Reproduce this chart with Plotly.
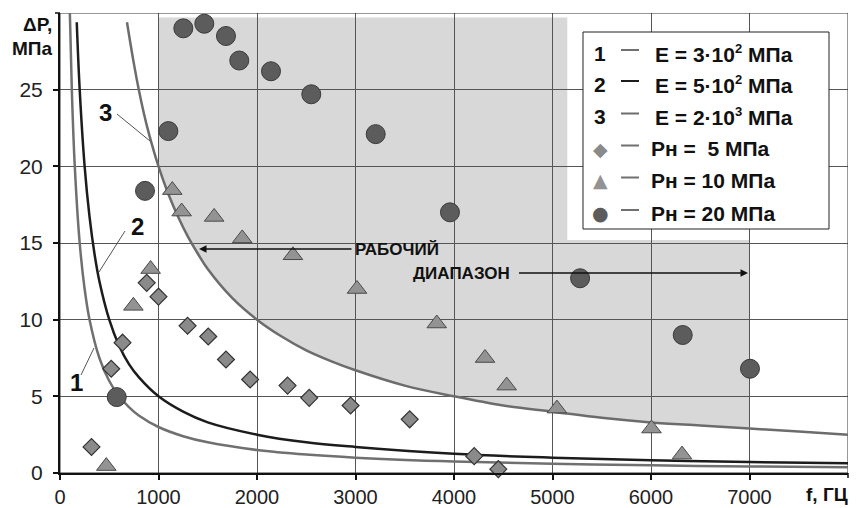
import plotly.graph_objects as go

# ---- theoretical curves ----
c1_f = [100, 120, 150, 200, 250, 300, 400, 500, 600, 700, 800, 1000, 1250, 1500, 2000, 2500, 3000, 4000, 5000, 6000, 7000, 8000]
c1_p = [30, 25, 20, 15, 12, 10, 7.5, 6, 5, 4.3, 3.75, 3, 2.4, 2, 1.5, 1.2, 1, 0.75, 0.6, 0.5, 0.43, 0.38]
c2_f = [170, 200, 250, 300, 350, 400, 500, 600, 700, 800, 1000, 1250, 1500, 2000, 2500, 3000, 4000, 5000, 6000, 7000, 8000]
c2_p = [29.4, 25, 20, 16.7, 14.3, 12.5, 10, 8.3, 7.1, 6.25, 5, 4, 3.3, 2.5, 2, 1.7, 1.25, 1, 0.83, 0.71, 0.63]
c3_f = [680, 700, 750, 800, 850, 900, 1000, 1100, 1200, 1300, 1400, 1500, 1750, 2000, 2250, 2500, 2750, 3000,
        3500, 4000, 4500, 5000, 5500, 6000, 6500, 7000, 7500, 8000]
c3_p = [29.4, 28.6, 26.7, 25, 23.5, 22.2, 20, 18.2, 16.7, 15.4, 14.3, 13.3, 11.4, 10, 8.9, 8, 7.3, 6.7,
        5.7, 5, 4.4, 4, 3.6, 3.3, 3.1, 2.9, 2.7, 2.5]

# ---- measured points ----
d_f = [320, 520, 635, 880, 1000, 1295, 1505, 1685, 1930, 2310, 2530, 2950, 3550, 4205, 4450]
d_p = [1.7, 6.8, 8.5, 12.4, 11.5, 9.6, 8.9, 7.4, 6.1, 5.7, 4.9, 4.4, 3.5, 1.1, 0.25]
t_f = [470, 745, 920, 1140, 1235, 1565, 1850, 2365, 3015, 3825, 4315, 4535, 5045, 6005, 6315]
t_p = [0.45, 10.9, 13.3, 18.45, 17.05, 16.7, 15.3, 14.2, 12.0, 9.75, 7.5, 5.7, 4.2, 2.9, 1.2]
c_f = [576, 863, 1100, 1252, 1465, 1685, 1820, 2142, 2551, 3205, 3959, 5280, 6322, 7005]
c_p = [4.95, 18.4, 22.3, 29.0, 29.3, 28.5, 26.9, 26.2, 24.7, 22.1, 17.0, 12.7, 9.0, 6.8]

# working range (shaded area)
shade_f = [1000, 5150, 7000]
shade_top = [29.7, 15.2]

x_ticks = [0, 1000, 2000, 3000, 4000, 5000, 6000, 7000]
y_ticks = [0, 5, 10, 15, 20, 25]

SUP = "<sup><span style='font-size:13px'>{}</span></sup>"
legend_labels = ['E = 3·10' + SUP.format(2) + ' МПа', 'E = 5·10' + SUP.format(2) + ' МПа',
                 'E = 2·10' + SUP.format(3) + ' МПа',
                 'Рн =  5 МПа', 'Рн = 10 МПа', 'Рн = 20 МПа']

W, H = 856, 508
L, R, T, B = 60, 8, 13, 35
PW, PH = W - L - R, H - T - B
FONT = 'Liberation Sans, Arial, sans-serif'


def xp(px):
    return (px - L) / PW


def yp(py):
    return (H - B - py) / PH


def fx(px):
    return (px - L) / PW * 8000


def fy(py):
    return (H - B - py) / PH * 30


fig = go.Figure()

C1 = '#707070'
C2 = '#1c1c1c'
C3 = '#6c6c6c'
fig.add_trace(go.Scatter(x=c1_f, y=c1_p, mode='lines', line=dict(color=C1, width=2.5, shape='spline'), showlegend=False))
fig.add_trace(go.Scatter(x=c2_f, y=c2_p, mode='lines', line=dict(color=C2, width=2.5, shape='spline'), showlegend=False))
fig.add_trace(go.Scatter(x=c3_f, y=c3_p, mode='lines', line=dict(color=C3, width=2.5, shape='spline'), showlegend=False))

fig.add_trace(go.Scatter(x=d_f, y=d_p, mode='markers', cliponaxis=False, showlegend=False,
                         marker=dict(symbol='diamond', size=13, color='#8a8a8a', line=dict(color='#333', width=1.2))))
fig.add_trace(go.Scatter(x=t_f, y=t_p, mode='markers', cliponaxis=False, showlegend=False,
                         marker=dict(symbol='triangle-up', size=17, color='#939393', line=dict(color='#4a4a4a', width=1))))
fig.add_trace(go.Scatter(x=c_f, y=c_p, mode='markers', cliponaxis=False, showlegend=False,
                         marker=dict(symbol='circle', size=19, color='#5c5c5c', line=dict(color='#3a3a3a', width=1))))

# shaded working range, bounded below by curve 3
seg = [(f, p) for f, p in zip(c3_f, c3_p) if shade_f[0] <= f <= shade_f[2]]
path = f'M {seg[0][0]},{seg[0][1]} L {shade_f[0]},{shade_top[0]} L {shade_f[1]},{shade_top[0]} ' \
       f'L {shade_f[1]},{shade_top[1]} L {shade_f[2]},{shade_top[1]} '
for f, p in reversed(seg):
    path += f'L {f},{p} '
path += 'Z'

shapes = [
    dict(type='path', path=path, xref='x', yref='y', fillcolor='#d8d8d8', line=dict(width=0), layer='below'),
    # frame (top / right) with grid-like thin line
    dict(type='rect', xref='x', yref='y', x0=0, x1=8000, y0=0, y1=30, line=dict(color='#333', width=1), layer='between'),
    # legend box
    dict(type='rect', xref='x', yref='y', x0=fx(583), x1=fx(829), y0=fy(229), y1=fy(32),
         fillcolor='white', line=dict(color='#222', width=1), layer='between'),
    # tick marks at the titled ends of the axes
    dict(type='line', xref='paper', yref='paper', x0=1, x1=1, y0=0, y1=yp(H - B + 5), line=dict(color='#111', width=1.5)),
    dict(type='line', xref='paper', yref='paper', x0=0, x1=xp(L - 5), y0=1, y1=1, line=dict(color='#111', width=1.5)),
]

annotations = []
rows = [53, 84, 116.5, 148.5, 180.5, 213]
dash_col = [C1, C2, C3, C1, C1, C1]
glyph = ['1', '2', '3', '◆', '▲', '●']
glyph_col = ['#111', '#111', '#111', '#8a8a8a', '#939393', '#5c5c5c']
for i, ry in enumerate(rows):
    shapes.append(dict(type='line', xref='paper', yref='paper', x0=xp(621), x1=xp(639),
                       y0=yp(ry - 3), y1=yp(ry - 3), line=dict(color=dash_col[i], width=2), layer='above'))
    annotations.append(dict(xref='paper', yref='paper', x=xp(600), y=yp(ry), text=glyph[i], showarrow=False,
                            xanchor='center', yanchor='middle',
                            font=dict(family=FONT if i < 3 else 'DejaVu Sans', size=21 if i < 3 else 19,
                                      color=glyph_col[i], weight='bold')))
    annotations.append(dict(xref='paper', yref='paper', x=xp(653 if i < 3 else 649), y=yp(ry), text=legend_labels[i],
                            showarrow=False, xanchor='left', yanchor='middle',
                            font=dict(family=FONT, size=21, color='#111', weight='bold')))

# curve number labels with leader lines
num_lbl = [('1', 76, 382, 81, 375, 94, 348), ('2', 137, 226, 125, 231, 99, 272), ('3', 105, 113, 117, 114, 150, 141)]
for t, tx, ty, x0, y0, x1, y1 in num_lbl:
    annotations.append(dict(xref='paper', yref='paper', x=xp(tx), y=yp(ty), text=t, showarrow=False,
                            xanchor='center', yanchor='middle',
                            font=dict(family=FONT, size=24, color='#111', weight='bold')))
    shapes.append(dict(type='line', xref='paper', yref='paper', x0=xp(x0), y0=yp(y0), x1=xp(x1), y1=yp(y1),
                       line=dict(color='#555', width=1), layer='above'))

# working range text + arrows (arrow drawn from the text box)
annotations.append(dict(xref='x', yref='y', x=fx(199), y=fy(249), ax=fx(397), ay=fy(249), axref='x', ayref='y',
                        text='РАБОЧИЙ', showarrow=True, arrowhead=2, arrowsize=1, arrowwidth=1.5, arrowcolor='#111',
                        startstandoff=2, font=dict(family=FONT, size=17, color='#111', weight='bold')))
annotations.append(dict(xref='x', yref='y', x=fx(748), y=fy(273), ax=fx(461), ay=fy(273), axref='x', ayref='y',
                        text='ДИАПАЗОН', showarrow=True, arrowhead=2, arrowsize=1, arrowwidth=1.5, arrowcolor='#111',
                        startstandoff=8, font=dict(family=FONT, size=17, color='#111', weight='bold')))

# axis titles replacing the last tick labels
annotations.append(dict(xref='paper', yref='paper', x=xp(54), y=yp(25), text='ΔP,', showarrow=False,
                        xanchor='right', yanchor='middle', font=dict(family=FONT, size=19, color='#111', weight='bold')))
annotations.append(dict(xref='paper', yref='paper', x=xp(54), y=yp(48), text='МПа', showarrow=False,
                        xanchor='right', yanchor='middle', font=dict(family=FONT, size=19, color='#111', weight='bold')))
annotations.append(dict(xref='paper', yref='paper', x=xp(850), y=yp(494), text='f, ГЦ', showarrow=False,
                        xanchor='right', yanchor='middle', font=dict(family=FONT, size=19, color='#111', weight='bold')))

fig.update_layout(
    width=W, height=H, margin=dict(l=L, r=R, t=T, b=B, autoexpand=False),
    paper_bgcolor='white', plot_bgcolor='white',
    font=dict(family=FONT, size=21, color='#222'),
    shapes=shapes, annotations=annotations, showlegend=False,
    xaxis=dict(range=[0, 8000], tickvals=x_ticks, showgrid=True, gridcolor='#555', gridwidth=1, automargin=False,
               zeroline=False, showline=True, linecolor='#111', linewidth=2, ticks='outside', ticklen=5,
               tickcolor='#111', tickwidth=1.5, ticklabelstandoff=0, tickfont=dict(size=20, color='#222')),
    yaxis=dict(range=[0, 30], tickvals=y_ticks, showgrid=True, gridcolor='#555', gridwidth=1, automargin=False,
               zeroline=False, showline=True, linecolor='#111', linewidth=2, ticks='outside', ticklen=5,
               tickcolor='#111', tickwidth=1.5, ticklabelstandoff=6, tickfont=dict(size=21, color='#222')),
)

fig.write_html('out.html', config={'displayModeBar': False},
               post_script="document.body.style.margin='0';document.body.style.overflow='hidden';")
